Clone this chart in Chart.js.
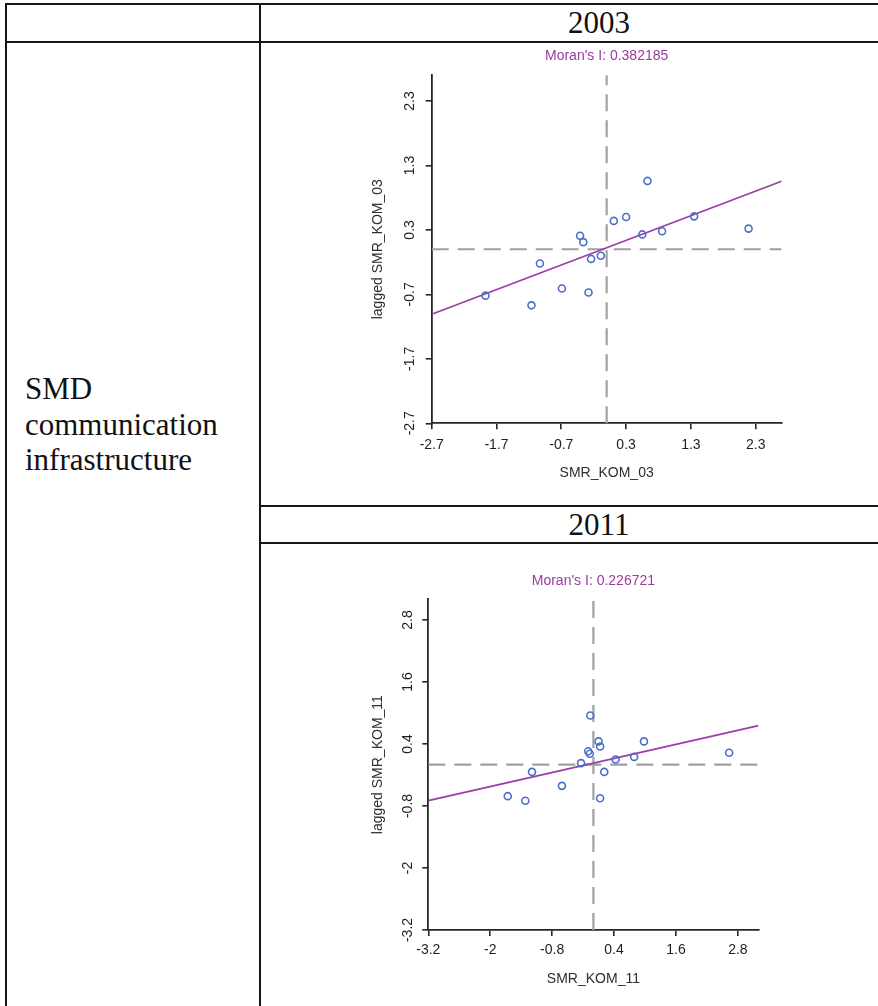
<!DOCTYPE html>
<html>
<head>
<meta charset="utf-8">
<script src="https://cdn.jsdelivr.net/npm/chart.js@4/dist/chart.umd.min.js"></script>
<style>
  body { margin: 0; background: #fff; }
  #page { position: relative; width: 878px; height: 1006px; overflow: hidden; background: #fff; }
  .rule { position: absolute; background: #151515; }
  .cell-text { position: absolute; font-family: 'Liberation Serif', 'Times New Roman', serif; font-size: 31px; color: #111; white-space: nowrap; }
  canvas { position: absolute; }
</style>
</head>
<body>
<div id="page">
  <div class="rule" style="left:5px; top:3px; width:933px; height:2px"></div>
  <div class="rule" style="left:5px; top:40.7px; width:933px; height:2px"></div>
  <div class="rule" style="left:259px; top:504.7px; width:679px; height:2px"></div>
  <div class="rule" style="left:259px; top:542.3px; width:679px; height:2px"></div>
  <div class="rule" style="left:5px; top:3px; width:2px; height:1010px"></div>
  <div class="rule" style="left:259px; top:3px; width:2px; height:1010px"></div>

  <div class="cell-text" style="left:261px; width:676px; top:3.5px; line-height:38px; text-align:center">2003</div>
  <div class="cell-text" style="left:261px; width:676px; top:505.5px; line-height:38px; text-align:center">2011</div>
  <div class="cell-text" style="left:25px; top:371px; line-height:35.7px">SMD<br>communication<br>infrastructure</div>

  <canvas id="plot03" width="470" height="460" style="left:340px; top:44px"></canvas>
  <canvas id="plot11" width="470" height="456" style="left:340px; top:550px"></canvas>
</div>

<script>
'use strict';

// 2003 panel
const smr03 = [-1.87, -1.16, -1.03, -0.69, -0.41, -0.36, -0.28, -0.24, -0.09, 0.11, 0.30, 0.55, 0.63, 0.855, 1.35, 2.19];
const lagged03 = [-0.72, -0.87, -0.22, -0.61, 0.21, 0.11, -0.67, -0.15, -0.10, 0.44, 0.50, 0.23, 1.06, 0.28, 0.51, 0.32];
const moran03 = 0.382185;
const ticks03 = [-2.7, -1.7, -0.7, 0.3, 1.3, 2.3];
const range03 = [-2.7, 2.7];

// 2011 panel
const smr11 = [-1.66, -1.32, -1.19, -0.61, -0.24, -0.10, -0.07, -0.06, 0.10, 0.13, 0.13, 0.21, 0.43, 0.79, 0.98, 2.63];
const lagged11 = [-0.61, -0.70, -0.14, -0.41, 0.03, 0.26, 0.21, 0.95, 0.45, 0.35, -0.65, -0.14, 0.10, 0.15, 0.45, 0.23];
const moran11 = 0.226721;
const ticks11 = [-3.2, -2, -0.8, 0.4, 1.6, 2.8];
const range11 = [-3.2, 3.2];

const centre = 0; // standardised variables -> mean lines at 0

const FONT = 'Liberation Sans';
const AXIS = '#262626';

const mean = arr => arr.reduce((s, v) => s + v, 0) / arr.length;

function moranChart(canvasId, xs, lags, moranI, tickVals, range, names, fit) {
  const [lo, hi] = range;
  const intercept = mean(lags) - moranI * mean(xs);

  const datasets = [
    {
      // observations
      data: xs.map((x, i) => ({ x: x, y: lags[i] })),
      showLine: false,
      pointRadius: 3.5,
      pointBorderWidth: 1.6,
      pointBorderColor: '#4a6ec8',
      pointBackgroundColor: 'rgba(0,0,0,0)'
    },
    {
      // regression line, slope = Moran's I
      data: [{ x: lo, y: intercept + moranI * lo }, { x: hi, y: intercept + moranI * hi }],
      showLine: true,
      borderColor: '#9a3fa5',
      borderWidth: 1.8,
      pointRadius: 0
    },
    {
      data: [{ x: centre, y: lo }, { x: centre, y: hi }],
      showLine: true,
      borderColor: '#a0a0a0',
      borderWidth: 2.2,
      borderDash: [17, 9],
      pointRadius: 0
    },
    {
      data: [{ x: lo, y: centre }, { x: hi, y: centre }],
      showLine: true,
      borderColor: '#a0a0a0',
      borderWidth: 2.2,
      borderDash: [17, 9],
      pointRadius: 0
    }
  ];

  const axisBase = {
    type: 'linear',
    min: lo,
    max: hi,
    afterBuildTicks: s => { s.ticks = tickVals.map(v => ({ value: v })); },
    grid: { drawOnChartArea: false, drawTicks: true, tickLength: 6, color: AXIS, lineWidth: 1.6 },
    border: { display: true, color: AXIS, width: 1.8 }
  };

  const config = {
    type: 'scatter',
    data: { datasets: datasets },
    options: {
      responsive: false,
      animation: false,
      devicePixelRatio: 1,
      events: [],
      layout: { padding: fit.pad },
      plugins: {
        legend: { display: false },
        tooltip: { enabled: false },
        title: {
          display: true,
          fullSize: false,
          text: "Moran's I: " + moranI,
          color: '#9a3b9e',
          font: { family: FONT, size: 14, weight: 'normal' },
          padding: { top: fit.titleTop, bottom: fit.titleBottom }
        }
      },
      scales: {
        x: Object.assign({}, axisBase, {
          afterFit: s => { s.height = 70; },
          ticks: {
            autoSkip: false, maxRotation: 0, padding: fit.xTickPad,
            color: '#1e1e1e', font: { family: FONT, size: 14 },
            callback: v => String(v)
          },
          title: {
            display: true, text: names[0], color: '#2e2e2e',
            font: { family: FONT, size: 14 },
            padding: { top: 0, bottom: fit.xTitlePad }
          }
        }),
        y: Object.assign({}, axisBase, {
          afterFit: s => { s.width = 62; },
          ticks: {
            autoSkip: false, minRotation: 90, maxRotation: 90, crossAlign: 'center',
            padding: fit.yTickPad, color: '#1e1e1e', font: { family: FONT, size: 14 },
            callback: v => String(v)
          },
          title: {
            display: true, text: names[1], color: '#2e2e2e',
            font: { family: FONT, size: 14 },
            padding: { top: fit.yTitlePad, bottom: 0 }
          }
        })
      }
    }
  };

  return new Chart(document.getElementById(canvasId), config);
}

const chart03 = moranChart('plot03', smr03, lagged03, moran03, ticks03, range03,
  ['SMR_KOM_03', 'lagged SMR_KOM_03'],
  { pad: { left: 29.7, right: 28.4, top: 0, bottom: 10.7 }, titleTop: 3.6, titleBottom: 10.8,
    xTickPad: 7.3, xTitlePad: 11.6, yTickPad: 3.6, yTitlePad: 0.2 });

const chart11 = moranChart('plot11', smr11, lagged11, moran11, ticks11, range11,
  ['SMR_KOM_11', 'lagged SMR_KOM_11'],
  { pad: { left: 26.3, right: 51.5, top: 0, bottom: 6 }, titleTop: 22.6, titleBottom: 9.9,
    xTickPad: 5.6, xTitlePad: 12.3, yTickPad: 1.9, yTitlePad: 3.6 });
</script>
</body>
</html>
